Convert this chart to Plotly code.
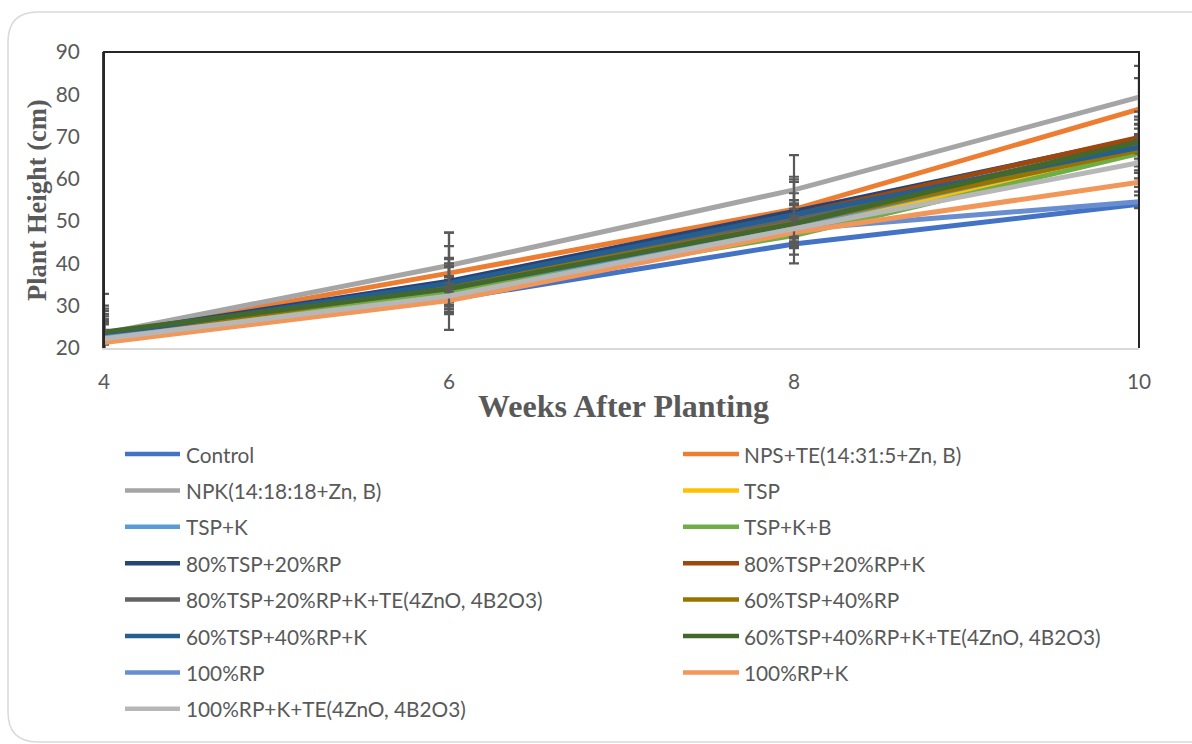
import plotly.graph_objects as go

# Weeks after planting
weeks = [4, 6, 8, 10]

# Treatment names (legend order)
treatments = [
    "Control",
    "NPS+TE(14:31:5+Zn, B)",
    "NPK(14:18:18+Zn, B)",
    "TSP",
    "TSP+K",
    "TSP+K+B",
    "80%TSP+20%RP",
    "80%TSP+20%RP+K",
    "80%TSP+20%RP+K+TE(4ZnO, 4B2O3)",
    "60%TSP+40%RP",
    "60%TSP+40%RP+K",
    "60%TSP+40%RP+K+TE(4ZnO, 4B2O3)",
    "100%RP",
    "100%RP+K",
    "100%RP+K+TE(4ZnO, 4B2O3)",
]

# Mean plant height (cm) per treatment at weeks 4, 6, 8, 10
height_control = [23.0, 31.5, 44.6, 54.0]
height_nps_te = [23.2, 37.7, 52.8, 76.5]
height_npk = [23.5, 39.5, 57.4, 79.3]
height_tsp = [22.6, 33.8, 48.0, 66.6]
height_tsp_k = [22.8, 33.5, 49.0, 67.0]
height_tsp_k_b = [22.5, 33.2, 46.6, 66.0]
height_80tsp = [23.3, 35.8, 52.3, 69.5]
height_80tsp_k = [23.0, 35.0, 51.5, 69.8]
height_80tsp_k_te = [22.8, 34.6, 50.5, 68.5]
height_60tsp = [22.6, 34.5, 49.5, 66.8]
height_60tsp_k = [23.1, 35.3, 51.5, 67.4]
height_60tsp_k_te = [23.8, 34.0, 49.4, 68.8]
height_100rp = [22.4, 31.6, 48.0, 54.6]
height_100rp_k = [21.3, 31.2, 47.3, 59.2]
height_100rp_k_te = [22.2, 32.3, 48.2, 63.8]

# Error (±) per treatment at weeks 4, 6, 8, 10
err_control = [6.3, 3.0, 2.5, 0.7]
err_nps_te = [6.8, 6.4, 12.8, 7.3]
err_npk = [9.3, 7.8, 2.5, 7.4]
err_tsp = [4.2, 3.0, 3.0, 3.5]
err_tsp_k = [4.7, 3.5, 4.8, 3.0]
err_tsp_k_b = [3.8, 3.0, 3.0, 4.0]
err_80tsp = [5.4, 11.5, 8.2, 3.5]
err_80tsp_k = [3.5, 5.0, 5.1, 6.1]
err_80tsp_k_te = [3.2, 4.5, 4.5, 5.5]
err_60tsp = [4.0, 6.5, 4.7, 3.8]
err_60tsp_k = [4.9, 6.0, 7.8, 7.3]
err_60tsp_k_te = [3.0, 5.5, 3.5, 4.0]
err_100rp = [3.6, 2.5, 3.0, 1.5]
err_100rp_k = [3.0, 2.0, 3.0, 2.2]
err_100rp_k_te = [3.4, 3.0, 3.0, 5.7]

heights = [
    height_control, height_nps_te, height_npk, height_tsp, height_tsp_k,
    height_tsp_k_b, height_80tsp, height_80tsp_k, height_80tsp_k_te,
    height_60tsp, height_60tsp_k, height_60tsp_k_te, height_100rp,
    height_100rp_k, height_100rp_k_te,
]
errors = [
    err_control, err_nps_te, err_npk, err_tsp, err_tsp_k, err_tsp_k_b,
    err_80tsp, err_80tsp_k, err_80tsp_k_te, err_60tsp, err_60tsp_k,
    err_60tsp_k_te, err_100rp, err_100rp_k, err_100rp_k_te,
]

colors = [
    "#4472C4", "#ED7D31", "#A5A5A5", "#FFC000", "#5B9BD5", "#70AD47",
    "#264478", "#9E480E", "#636363", "#997300", "#255E91", "#43682B",
    "#698ED0", "#F1975A", "#B7B7B7",
]

W, H = 1192, 744
L, R, T, B = 104, 1139, 52, 348  # plot area in pixels
PW, PH = R - L, B - T


def px_x(x):
    return (x - L) / PW


def px_y(y):
    return (B - y) / PH


TEXT_FONT = "Lato"
TEXT_COLOR = "#595959"

fig = go.Figure()

for name, ys, es, col in zip(treatments, heights, errors, colors):
    fig.add_trace(go.Scatter(
        x=weeks, y=ys, name=name, mode="lines",
        line=dict(color=col, width=5),
        error_y=dict(type="data", array=es, visible=True,
                     color="#595959", thickness=2.2, width=5),
        showlegend=False,
    ))

shapes = []
annotations = []

# Outer rounded card border
cx0, cy0, cx1, cy1, rad = 8, 12, 1230, 742, 30
path = (
    f"M {px_x(cx0)},{px_y(cy0 + rad)} "
    f"Q {px_x(cx0)},{px_y(cy0)} {px_x(cx0 + rad)},{px_y(cy0)} "
    f"L {px_x(cx1)},{px_y(cy0)} "
    f"M {px_x(cx0)},{px_y(cy0 + rad)} "
    f"L {px_x(cx0)},{px_y(cy1 - rad)} "
    f"Q {px_x(cx0)},{px_y(cy1)} {px_x(cx0 + rad)},{px_y(cy1)} "
    f"L {px_x(cx1)},{px_y(cy1)}"
)
shapes.append(dict(type="path", xref="paper", yref="paper", path=path,
                   line=dict(color="#D9D9D9", width=1.5), layer="below"))

# Plot frame: dark top, left and right edges
shapes.append(dict(type="path", xref="paper", yref="paper",
                   path="M 0,0 L 0,1 L 1,1 L 1,0",
                   line=dict(color="#262626", width=2), layer="above"))

# Legend in two columns
row_y0, row_dy = 454, 36.4
col_line_x = [(125, 180), (683, 739)]
col_text_x = [184, 742]
for i, (name, col) in enumerate(zip(treatments, colors)):
    c = i % 2
    r = i // 2
    yy = row_y0 + r * row_dy
    x0, x1 = col_line_x[c]
    shapes.append(dict(type="line", xref="paper", yref="paper",
                       x0=px_x(x0), x1=px_x(x1), y0=px_y(yy), y1=px_y(yy),
                       line=dict(color=col, width=4.5)))
    annotations.append(dict(xref="paper", yref="paper", x=px_x(col_text_x[c]),
                            y=px_y(yy), text=name, showarrow=False,
                            xanchor="left", yanchor="middle",
                            font=dict(family=TEXT_FONT, size=20.8, color=TEXT_COLOR)))

# Axis titles
annotations.append(dict(xref="paper", yref="paper", x=px_x(623), y=px_y(406),
                        text="<b>Weeks After Planting</b>", showarrow=False,
                        xanchor="center", yanchor="middle",
                        font=dict(family="Liberation Serif", size=32, color=TEXT_COLOR)))
annotations.append(dict(xref="paper", yref="paper", x=px_x(37), y=px_y(200),
                        text="<b>Plant Height (cm)</b>", showarrow=False,
                        textangle=-90, xanchor="center", yanchor="middle",
                        font=dict(family="Liberation Serif", size=26.5, color=TEXT_COLOR)))

fig.update_layout(
    width=W, height=H,
    margin=dict(l=L, r=W - R, t=T, b=H - B),
    paper_bgcolor="white", plot_bgcolor="white",
    shapes=shapes, annotations=annotations,
    xaxis=dict(range=[4, 10], tickvals=weeks, ticktext=[str(w) for w in weeks],
               showgrid=False, zeroline=False, showline=True,
               linecolor="#D9D9D9", linewidth=2, ticks="",
               ticklabelstandoff=14,
               tickfont=dict(family=TEXT_FONT, size=20.8, color=TEXT_COLOR)),
    yaxis=dict(range=[20, 90], dtick=10, showgrid=False, zeroline=False,
               showline=True, linecolor="#404040", linewidth=2, ticks="",
               ticklabelstandoff=18,
               tickfont=dict(family=TEXT_FONT, size=20.8, color=TEXT_COLOR)),
    showlegend=False,
)

fig.write_html("out.html")
